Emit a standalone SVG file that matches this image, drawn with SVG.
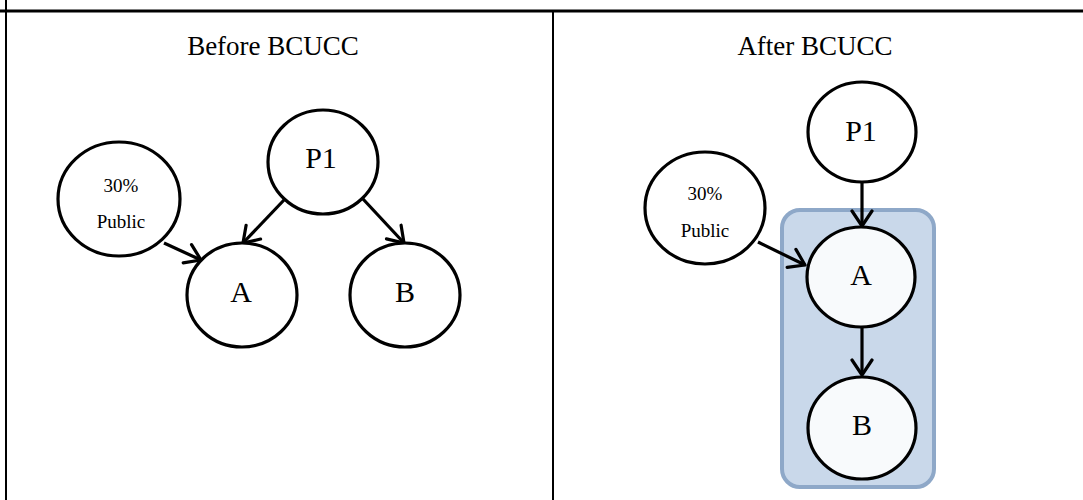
<svg xmlns="http://www.w3.org/2000/svg" width="1083" height="500" viewBox="0 0 1083 500">
<defs>
<style>
.frame{stroke:#000;fill:none}
.node{stroke:#000;stroke-width:3.2;fill:#fff}
.inner{fill:#f8fafc}
.t{font-family:"Liberation Serif",serif;fill:#000;text-anchor:middle}
.big{font-size:30px}
.small{font-size:19px}
.edge{stroke:#000;stroke-width:3.2;fill:none;marker-end:url(#ah)}
</style>
<marker id="ah" markerUnits="userSpaceOnUse" viewBox="0 0 24 24" refX="21" refY="12" markerWidth="24" markerHeight="24" orient="auto">
<path d="M6,2 L21,12 L6,22" fill="none" stroke="#000" stroke-width="3.2" stroke-linecap="round" stroke-linejoin="round"/>
</marker>
</defs>
<rect width="1083" height="500" fill="#fff"/>
<g id="table">
<line class="frame" x1="0" y1="11" x2="1083" y2="11" stroke-width="3"/>
<line class="frame" x1="6" y1="0" x2="6" y2="500" stroke-width="2"/>
<line class="frame" x1="553" y1="11" x2="553" y2="500" stroke-width="2"/>
<text class="t" x="273" y="55" font-size="27">Before BCUCC</text>
<text class="t" x="815" y="55" font-size="27">After BCUCC</text>
</g>
<g id="group-AB">
<rect x="782" y="210" width="152" height="277" rx="18" fill="#c9d8ea" stroke="#8ea8c8" stroke-width="4"/>
</g>
<g id="connectors">
<path class="edge" d="M284,200 L243,243"/>
<path class="edge" d="M363,199 L404,243"/>
<path class="edge" d="M164,243 L201,260"/>
<path class="edge" d="M862,182 L862,226"/>
<path class="edge" d="M862,327 L862,375"/>
<path class="edge" d="M758,242 L805,265"/>
</g>
<g id="L-public">
<ellipse class="node" cx="119" cy="199" rx="61" ry="57"/>
<text class="t small" x="121" y="192">30%</text>
<text class="t small" x="121" y="228">Public</text>
</g>
<g id="L-P1">
<ellipse class="node" cx="323" cy="162" rx="55" ry="52"/>
<text class="t big" x="321" y="168">P1</text>
</g>
<g id="L-A">
<ellipse class="node" cx="242" cy="295" rx="55" ry="52"/>
<text class="t big" x="241" y="302">A</text>
</g>
<g id="L-B">
<ellipse class="node" cx="405" cy="295" rx="55" ry="52"/>
<text class="t big" x="405" y="302">B</text>
</g>
<g id="R-P1">
<ellipse class="node" cx="862" cy="132" rx="54" ry="50"/>
<text class="t big" x="861" y="141">P1</text>
</g>
<g id="R-public">
<ellipse class="node" cx="705" cy="208" rx="60" ry="56"/>
<text class="t small" x="705" y="200">30%</text>
<text class="t small" x="705" y="237">Public</text>
</g>
<g id="R-A">
<ellipse class="node inner" cx="861" cy="277" rx="54" ry="50"/>
<text class="t big" x="861" y="285">A</text>
</g>
<g id="R-B">
<ellipse class="node inner" cx="862" cy="428" rx="54" ry="51"/>
<text class="t big" x="862" y="435">B</text>
</g>
</svg>
